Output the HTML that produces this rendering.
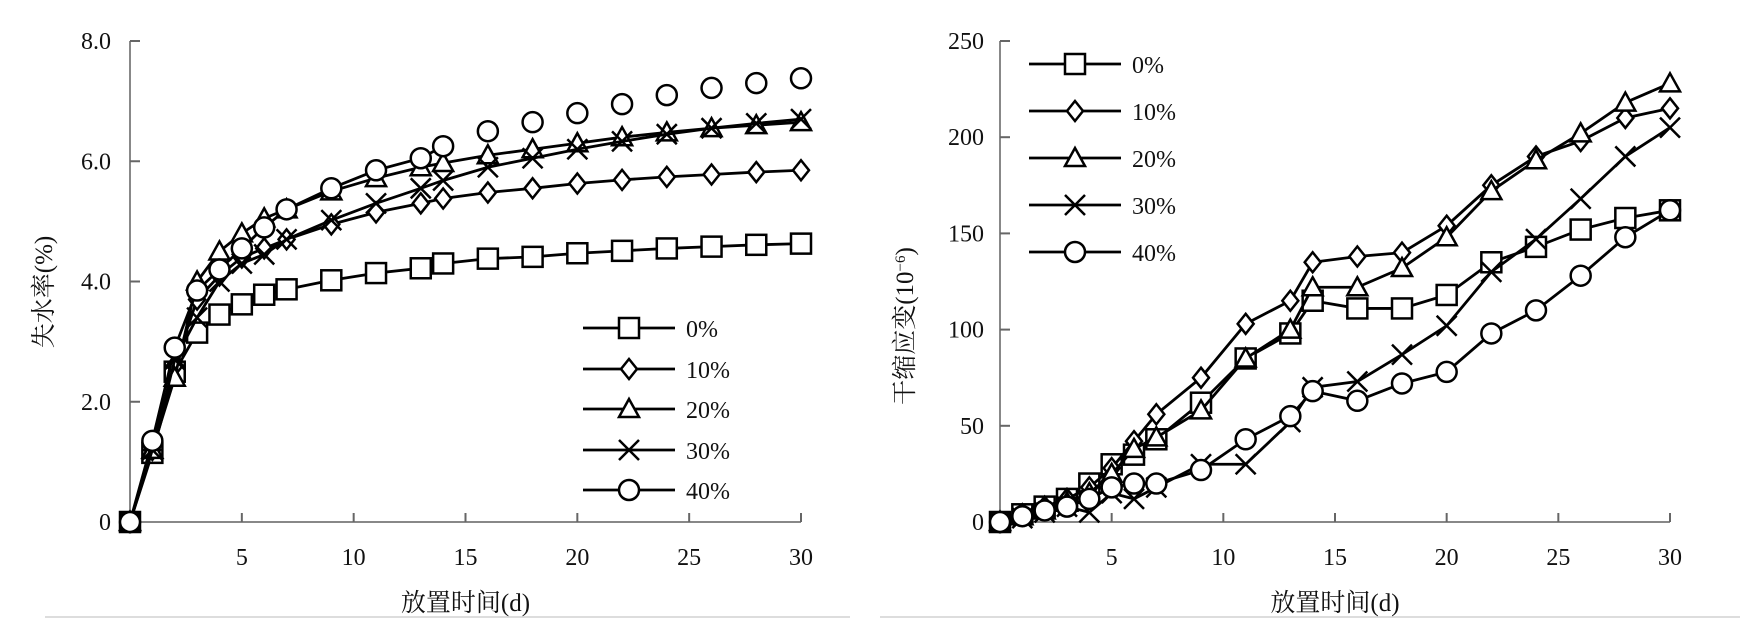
<!DOCTYPE html>
<html><head><meta charset="utf-8">
<style>
html,body{margin:0;padding:0;background:#fff;}
svg{display:block;}
text{font-family:"Liberation Serif","Noto Serif CJK SC",serif;fill:#111;}
</style></head>
<body>
<svg id="fig" width="1756" height="631" viewBox="0 0 1756 631" xmlns="http://www.w3.org/2000/svg">
<line x1="45" y1="617" x2="850" y2="617" stroke="#ddd" stroke-width="2"/>
<line x1="880" y1="617" x2="1740" y2="617" stroke="#ddd" stroke-width="2"/>
</svg>
<script>
const days = [0,1,2,3,4,5,6,7,9,11,13,14,16,18,20,22,24,26,28,30];
const seriesNames = ["0%","10%","20%","30%","40%"];
const markers = ["square","diamond","triangle","x","circle"];
// left chart: water loss rate (%)
const lossS0 = [0,1.15,2.5,3.15,3.45,3.62,3.78,3.87,4.02,4.14,4.22,4.3,4.38,4.41,4.47,4.51,4.55,4.58,4.61,4.63];
const lossS10 = [0,1.2,2.6,3.7,4.1,4.4,4.55,4.7,4.95,5.15,5.3,5.38,5.48,5.55,5.63,5.69,5.74,5.78,5.82,5.85];
const lossS20 = [0,1.2,2.4,4.0,4.5,4.8,5.05,5.2,5.5,5.72,5.9,5.97,6.1,6.2,6.3,6.4,6.48,6.55,6.6,6.65];
const lossS30 = [0,1.2,2.7,3.4,4.0,4.3,4.45,4.7,5.02,5.3,5.55,5.68,5.9,6.05,6.2,6.33,6.45,6.55,6.63,6.7];
const lossS40 = [0,1.35,2.9,3.85,4.2,4.55,4.9,5.2,5.55,5.85,6.05,6.25,6.5,6.65,6.8,6.95,7.1,7.22,7.3,7.38];
const lossYTicks = [0,2,4,6,8];
const lossYLabels = ["0","2.0","4.0","6.0","8.0"];
// right chart: drying shrinkage strain (1e-6)
const shrS0 = [0,4,8,12,20,30,35,43,62,85,98,115,111,111,118,135,143,152,158,162];
const shrS10 = [0,4,8,12,18,28,42,56,75,103,115,135,138,140,154,175,190,198,210,215];
const shrS20 = [0,3,6,10,15,25,38,44,58,85,100,122,122,132,148,172,188,202,218,228];
const shrS30 = [0,2,5,8,5,15,12,18,30,30,52,70,73,87,102,130,147,168,190,205];
const shrS40 = [0,3,6,8,12,18,20,20,27,43,55,68,63,72,78,98,110,128,148,162];
const shrYTicks = [0,50,100,150,200,250];
const shrYLabels = ["0","50","100","150","200","250"];
const xTicks = [5,10,15,20,25,30];

const NS="http://www.w3.org/2000/svg";
const svg=document.getElementById('fig');
function mk(tag,attrs,parent){const e=document.createElementNS(NS,tag);for(const k in attrs)e.setAttribute(k,attrs[k]);(parent||svg).appendChild(e);return e;}

function drawMarker(g,type,cx,cy){
  const r=10;let e;
  if(type==="square"){e=mk('rect',{x:cx-r,y:cy-r,width:2*r,height:2*r,fill:'#fff',stroke:'#000','stroke-width':2.5},g);}
  else if(type==="diamond"){e=mk('polygon',{points:`${cx},${cy-r} ${cx+r*0.8},${cy} ${cx},${cy+r} ${cx-r*0.8},${cy}`,fill:'#fff',stroke:'#000','stroke-width':2.5},g);}
  else if(type==="triangle"){e=mk('polygon',{points:`${cx},${cy-r} ${cx+r},${cy+r*0.8} ${cx-r},${cy+r*0.8}`,fill:'#fff',stroke:'#000','stroke-width':2.5},g);}
  else if(type==="circle"){e=mk('circle',{cx:cx,cy:cy,r:r,fill:'#fff',stroke:'#000','stroke-width':2.5},g);}
  else {e=mk('path',{d:`M${cx-r} ${cy-r}L${cx+r} ${cy+r}M${cx+r} ${cy-r}L${cx-r} ${cy+r}`,stroke:'#000','stroke-width':2.5,fill:'none'},g);}
  
  
  return e;
}

function chart(opt){
  const {name,x0,x1,y0,y1,ymax,series,yTicks,yLabels,yLabelX,yTitle,yTitleX,yTitleY,legendX,legendYs,lineCut}=opt;
  const g=mk('g',{});
  
  
  const sx=d=>x0+(x1-x0)*d/30;
  const sy=v=>y0-(y0-y1)*v/ymax;
  // axes
  const ya=mk('line',{x1:x0,y1:sy(ymax),x2:x0,y2:y0,stroke:'#888','stroke-width':2},g);
  
  
  const xa=mk('line',{x1:x0,y1:y0,x2:x1,y2:y0,stroke:'#888','stroke-width':2},g);
  
  
  yTicks.forEach((v,i)=>{
    if(v>0){const t=mk('line',{x1:x0,y1:sy(v),x2:x0+10,y2:sy(v),stroke:'#666','stroke-width':2},g);
    
    }
    const tx=mk('text',{x:yLabelX,y:sy(v)+8,'text-anchor':'end','font-size':24},g);
    tx.textContent=yLabels[i];
    
    
  });
  xTicks.forEach(d=>{
    const t=mk('line',{x1:sx(d),y1:y0,x2:sx(d),y2:y0-9,stroke:'#666','stroke-width':2},g);
    
    
    const tx=mk('text',{x:sx(d),y:y0+43,'text-anchor':'middle','font-size':24},g);
    tx.textContent=String(d);
    
    
  });
  const xt=mk('text',{x:(x0+x1)/2,y:y0+89,'text-anchor':'middle','font-size':25},g);
  xt.textContent='放置时间(d)';
  
  
  const yt=mk('text',{x:yTitleX,y:yTitleY,'text-anchor':'middle','font-size':25,transform:`rotate(-90 ${yTitleX} ${yTitleY})`},g);
  yt.innerHTML=yTitle;
  
  
  // series
  series.forEach((vals,si)=>{
    const sg=mk('g',{},g);
    
    
    const n=(lineCut&&lineCut[si])?lineCut[si]:vals.length;
    const pts=vals.slice(0,n).map((v,i)=>sx(days[i])+','+sy(v)).join(' ');
    const pl=mk('polyline',{points:pts,fill:'none',stroke:'#000','stroke-width':2.8},sg);
    
    
    vals.forEach((v,i)=>drawMarker(sg,markers[si],sx(days[i]),sy(v)));
  });
  // legend
  const lg=mk('g',{},g);
  
  
  seriesNames.forEach((nm,i)=>{
    const y=legendYs[i];
    const eg=mk('g',{},lg);
    
    
    mk('line',{x1:legendX,y1:y,x2:legendX+92,y2:y,stroke:'#000','stroke-width':2.8},eg);
    drawMarker(eg,markers[i],legendX+46,y);
    const t=mk('text',{x:legendX+103,y:y+9,'font-size':24},eg);
    t.textContent=nm;
    
    
  });
}

chart({name:'water-loss-chart',x0:130,x1:801,y0:522,y1:41,ymax:8,
  series:[lossS0,lossS10,lossS20,lossS30,lossS40],yTicks:lossYTicks,yLabels:lossYLabels,
  yLabelX:111,yTitle:'失水率(%)',yTitleX:52,yTitleY:292,legendX:583,legendYs:[328,369,409,450,490],
  lineCut:[0,0,0,0,12]});
chart({name:'shrinkage-strain-chart',x0:1000,x1:1670,y0:522,y1:41,ymax:250,
  series:[shrS0,shrS10,shrS20,shrS30,shrS40],yTicks:shrYTicks,yLabels:shrYLabels,
  yLabelX:984,yTitle:'干缩应变(10<tspan baseline-shift="super" font-size="15">−6</tspan>)',yTitleX:913,yTitleY:326,
  legendX:1029,legendYs:[64,111,158,205,252]});
</script>
</body></html>
